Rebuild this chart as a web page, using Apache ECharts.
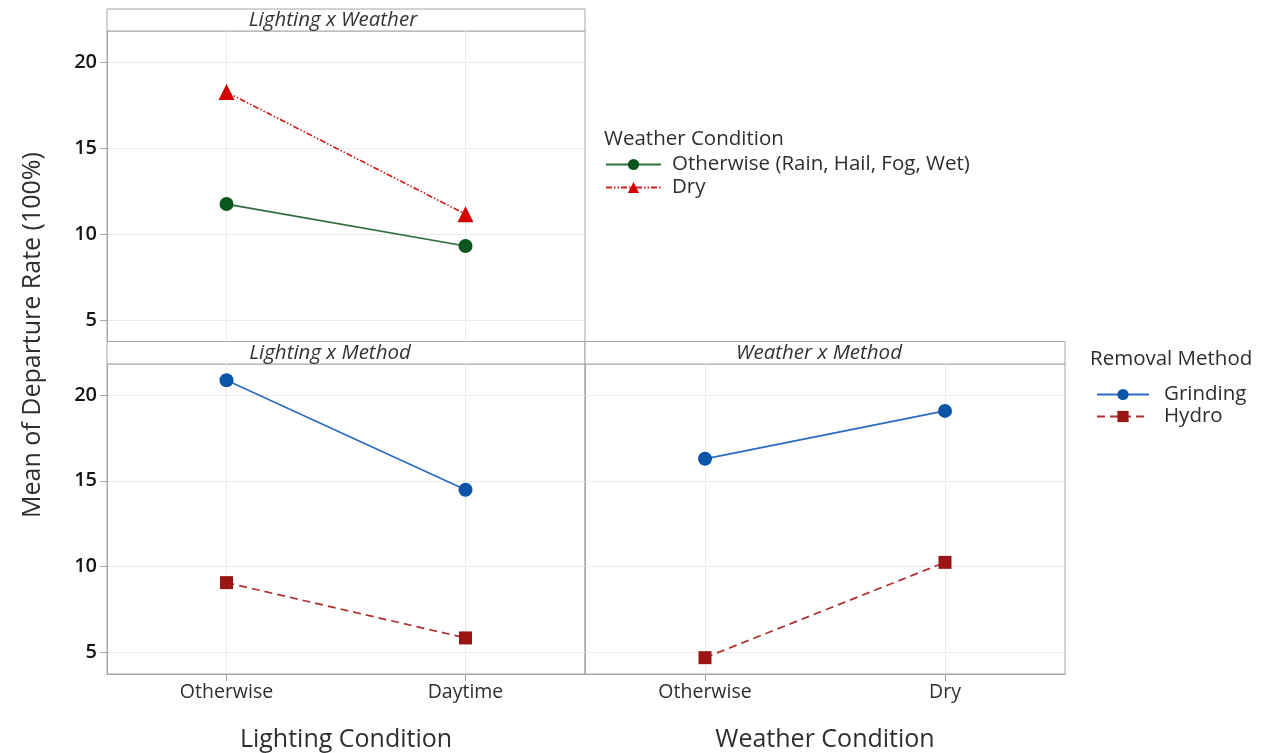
<!DOCTYPE html>
<html>
<head>
<meta charset="utf-8">
<script src="https://cdn.jsdelivr.net/npm/echarts@6/dist/echarts.min.js"></script>
<style>
  html, body { margin: 0; padding: 0; background: #fff; }
  #chart { width: 1271px; height: 753px; }
</style>
</head>
<body>
<div id="chart"></div>
<script>
// category labels
var lightingCats = ['Otherwise', 'Daytime'];
var weatherCats = ['Otherwise', 'Dry'];
var yTicks = [5, 10, 15, 20];

// Lighting x Weather
var wxOtherwise = [11.74, 9.30];
var wxDry = [18.25, 11.15];
// Lighting x Method
var lmGrinding = [20.85, 14.48];
var lmHydro = [9.07, 5.85];
// Weather x Method
var wmGrinding = [16.28, 19.07];
var wmHydro = [4.70, 10.25];

var FONT = '"Open Sans", "Noto Sans", sans-serif';
var FRAME = '#a6a6a6';
var GRID = '#ebebeb';

function pts(vals) {
    // categories sit on positions 1, 2 of a value axis running 0.5 .. 2.5
    return vals.map(function (v, i) { return [i + 1, v]; });
}

function xAxis(idx, cats, showLabels, name) {
    return {
        type: 'value', gridIndex: idx, min: 0.5, max: 2.5, splitNumber: 2,
        name: name || '', nameLocation: 'middle', nameGap: 53,
        nameTextStyle: { fontFamily: FONT, fontSize: 25, color: '#2e2e2e' },
        axisLine: { show: showLabels, lineStyle: { color: FRAME } },
        axisTick: { show: showLabels, length: 7, customValues: [1, 2], lineStyle: { color: FRAME } },
        axisLabel: {
            show: showLabels, customValues: [1, 2], margin: 8,
            fontFamily: FONT, fontSize: 19.5, color: '#2e2e2e',
            formatter: function (v) { return cats[Math.round(v) - 1] || ''; }
        },
        splitLine: { show: true, lineStyle: { color: GRID } }
    };
}

function yAxis(idx, showLabels) {
    return {
        type: 'value', gridIndex: idx, min: 3.75, max: 21.8, splitNumber: 4,
        axisLine: { show: true, lineStyle: { color: FRAME } },
        axisTick: { show: showLabels, length: 7, customValues: yTicks, lineStyle: { color: FRAME } },
        axisLabel: {
            show: showLabels, customValues: yTicks, margin: 10,
            fontFamily: FONT, fontSize: 20, fontWeight: 600, color: '#151515'
        },
        splitLine: { show: true, lineStyle: { color: GRID } }
    };
}

function line(name, idx, vals, color, mark, symbol, size, type) {
    return {
        name: name, type: 'line', xAxisIndex: idx, yAxisIndex: idx,
        data: pts(vals), symbol: symbol, symbolSize: size,
        lineStyle: { color: color, width: 1.7, type: type },
        itemStyle: { color: mark, borderWidth: 0 },
        z: 3
    };
}

var chart = echarts.init(document.getElementById('chart'));

var option = {
    animation: false,
    backgroundColor: '#fff',
    textStyle: { fontFamily: FONT },
    grid: [
        { left: 107, top: 31, width: 478, height: 310.5, show: true, borderColor: FRAME, borderWidth: 1 },
        { left: 107, top: 364, width: 478, height: 311, show: true, borderColor: FRAME, borderWidth: 1 },
        { left: 585, top: 364, width: 480, height: 311, show: true, borderColor: FRAME, borderWidth: 1 }
    ],
    xAxis: [
        xAxis(0, lightingCats, false),
        xAxis(1, lightingCats, true, 'Lighting Condition'),
        xAxis(2, weatherCats, true, 'Weather Condition')
    ],
    yAxis: [yAxis(0, true), yAxis(1, true), yAxis(2, false)],
    title: [
        { text: 'Weather Condition', left: 604, top: 129, padding: 0,
          textStyle: { fontFamily: FONT, fontSize: 20.5, fontWeight: 'normal', color: '#2e2e2e' } },
        { text: 'Removal Method', left: 1090, top: 349, padding: 0,
          textStyle: { fontFamily: FONT, fontSize: 20.5, fontWeight: 'normal', color: '#2e2e2e' } }
    ],
    legend: [
        { data: ['Otherwise (Rain, Hail, Fog, Wet)', 'Dry'], orient: 'vertical', padding: 0,
          left: 605, top: 154, itemWidth: 55, itemHeight: 14, itemGap: 2,
          textStyle: { fontFamily: FONT, fontSize: 20.5, color: '#2e2e2e', padding: [0, 0, 0, 6] } },
        { data: ['Grinding', 'Hydro'], orient: 'vertical', padding: 0,
          left: 1096, top: 384, itemWidth: 52, itemHeight: 14, itemGap: 1,
          textStyle: { fontFamily: FONT, fontSize: 20.5, color: '#2e2e2e', padding: [0, 0, 0, 10] } }
    ],
    graphic: [
        { type: 'rect', shape: { x: 107, y: 9, width: 478, height: 22 },
          style: { fill: '#fff', stroke: FRAME, lineWidth: 1 } },
        { type: 'text', x: 333, y: 20,
          style: { text: 'Lighting x Weather', fontFamily: FONT, fontSize: 20.5, fontStyle: 'italic',
                   fill: '#333', align: 'center', verticalAlign: 'middle' } },
        { type: 'rect', shape: { x: 107, y: 341.5, width: 478, height: 22.5 },
          style: { fill: '#fff', stroke: FRAME, lineWidth: 1 } },
        { type: 'text', x: 330, y: 353,
          style: { text: 'Lighting x Method', fontFamily: FONT, fontSize: 20.5, fontStyle: 'italic',
                   fill: '#333', align: 'center', verticalAlign: 'middle' } },
        { type: 'rect', shape: { x: 585, y: 341.5, width: 480, height: 22.5 },
          style: { fill: '#fff', stroke: FRAME, lineWidth: 1 } },
        { type: 'text', x: 819, y: 353,
          style: { text: 'Weather x Method', fontFamily: FONT, fontSize: 20.5, fontStyle: 'italic',
                   fill: '#333', align: 'center', verticalAlign: 'middle' } },
        { type: 'text', x: 33, y: 335, rotation: Math.PI / 2,
          style: { text: 'Mean of Departure Rate (100%)', fontFamily: FONT, fontSize: 25,
                   fill: '#2e2e2e', align: 'center', verticalAlign: 'middle' } }
    ],
    series: [
        line('Otherwise (Rain, Hail, Fog, Wet)', 0, wxOtherwise, '#2c6e36', '#0b561b', 'circle', 14, 'solid'),
        line('Dry', 0, wxDry, '#d42020', '#d40000', 'triangle', 16, [6, 2, 1.5, 2, 1.5, 2]),
        line('Grinding', 1, lmGrinding, '#2a6cc0', '#0a55a8', 'circle', 14, 'solid'),
        line('Hydro', 1, lmHydro, '#b03030', '#9b1515', 'rect', 13, [8, 5]),
        line('Grinding', 2, wmGrinding, '#2a6cc0', '#0a55a8', 'circle', 14, 'solid'),
        line('Hydro', 2, wmHydro, '#b03030', '#9b1515', 'rect', 13, [8, 5])
    ]
};

chart.setOption(option);
</script>
</body>
</html>
